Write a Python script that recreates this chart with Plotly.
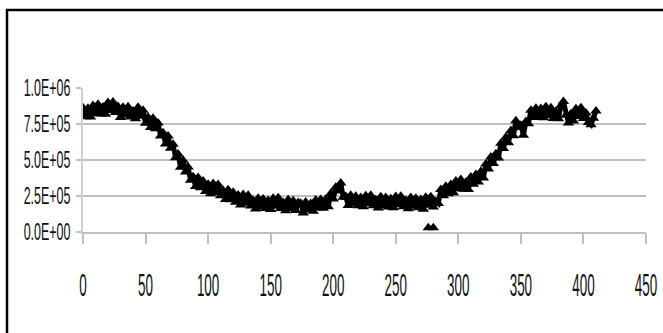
import plotly.graph_objects as go

# x positions (step 2) and values in thousands
x_vals = list(range(0, 412, 2))
y_thousands = [
    862, 800, 860, 798, 878, 822, 887, 820, 868, 818, 900, 844, 902, 830, 872, 795,
    866, 810, 870, 798, 840, 786, 866, 804, 845, 755, 797, 725, 790, 717, 757, 667,
    690, 611, 666, 582, 610, 515, 542, 450, 498, 417, 452, 360, 384, 316, 379, 308,
    355, 281, 332, 265, 336, 274, 329, 252, 289, 225, 294, 224, 276, 207, 257, 188,
    260, 199, 255, 180, 219, 160, 235, 174, 229, 163, 219, 156, 234, 178, 237, 164,
    205, 147, 224, 163, 217, 150, 204, 200, 132, 208, 152, 198, 144, 223, 166, 226,
    165, 228, 175, 268, 230, 310, 285, 340, 242, 247, 184, 256, 194, 249, 183, 239,
    176, 252, 196, 255, 182, 224, 167, 245, 184, 240, 174, 231, 168, 246, 189, 249,
    176, 218, 162, 239, 179, 234, 169, 226, 158, 241, 185, 245, 174, 212, 198, 296,
    251, 318, 265, 330, 272, 354, 301, 364, 297, 345, 296, 382, 332, 400, 348, 420,
    375, 472, 437, 520, 475, 544, 514, 616, 579, 658, 620, 704, 668, 773, 730, 742,
    672, 767, 751, 846, 796, 860, 801, 858, 793, 869, 808, 862, 788, 837, 787, 879,
    906, 810, 757, 822, 770, 856, 802, 862, 788, 827, 761, 745, 790, 840,
]
# two isolated low readings near x = 278
outlier_x = [276, 280]
outlier_y_thousands = [30, 30]

y_tick_values = [0, 250000, 500000, 750000, 1000000]
y_tick_labels = ["0.0E+00", "2.5E+05", "5.0E+05", "7.5E+05", "1.0E+06"]
x_tick_values = [0, 50, 100, 150, 200, 250, 300, 350, 400, 450]

main_y = [v * 1000 for v in y_thousands]
out_y = [v * 1000 for v in outlier_y_thousands]

FONT = "Liberation Sans, Arial, sans-serif"
TXT = "#111111"

fig = go.Figure()
fig.add_trace(go.Scatter(
    x=x_vals, y=main_y, mode="lines+markers",
    line=dict(color="#000000", width=5),
    marker=dict(symbol="triangle-up", size=10, color="#000000", line=dict(width=0)),
    showlegend=False, hoverinfo="skip",
))
fig.add_trace(go.Scatter(
    x=outlier_x, y=out_y, mode="markers",
    marker=dict(symbol="triangle-up", size=10, color="#000000", line=dict(width=0)),
    showlegend=False, hoverinfo="skip",
))

W, H = 663, 333
L, R, T, B = 83, 17, 88, 101
pw, ph = W - L - R, H - T - B

def px2paper_x(px):
    return (px - L) / pw

def py2paper_y(py):
    return (H - B - py) / ph

fig.update_layout(
    width=W, height=H,
    margin=dict(l=L, r=R, t=T, b=B, pad=0, autoexpand=False),
    paper_bgcolor="white", plot_bgcolor="white",
    font=dict(family=FONT, size=18, color=TXT),
    xaxis=dict(
        range=[0, 450], tickvals=x_tick_values,
        showgrid=False, zeroline=False, automargin=False,
        showline=True, linecolor="#bfbfbf", linewidth=2,
        ticks="outside", ticklen=10, tickwidth=1.5, tickcolor="#bfbfbf",
        ticklabelstandoff=14, ticklabeloverflow="allow",
        tickfont=dict(family=FONT, size=32, color=TXT),
    ),
    yaxis=dict(
        range=[0, 1000000], tickvals=y_tick_values, ticktext=y_tick_labels,
        showgrid=True, gridcolor="#bfbfbf", gridwidth=2,
        zeroline=False, automargin=False,
        showline=True, linecolor="#d0d0d0", linewidth=1.5,
        ticks="outside", ticklen=5, tickwidth=2, tickcolor="#bfbfbf",
        ticklabelstandoff=2, ticklabeloverflow="allow",
        tickfont=dict(family=FONT, size=24, color=TXT),
    ),
    shapes=[
        dict(type="line", xref="paper", yref="paper",
             x0=px2paper_x(7), x1=px2paper_x(7), y0=py2paper_y(9), y1=py2paper_y(340),
             line=dict(color="black", width=2.5)),
        dict(type="line", xref="paper", yref="paper",
             x0=px2paper_x(6), x1=px2paper_x(670), y0=py2paper_y(10), y1=py2paper_y(10),
             line=dict(color="black", width=2.5)),
    ],
)

# The reference uses a very condensed face; squeeze tick labels horizontally (text stays text).
post = """
(function(){
  function sq(sel, sx, dx){
    document.querySelectorAll(sel).forEach(function(t){
      if (t.getAttribute('data-sq')) return;
      var tr = t.getAttribute('transform') || '';
      var x = parseFloat(t.getAttribute('x') || '0');
      t.setAttribute('x', (x + dx) / sx);
      t.setAttribute('transform', tr + ' scale(' + sx + ',1)');
      t.setAttribute('data-sq', '1');
    });
  }
  sq('g.xtick text', 0.42, 0);
  sq('g.ytick text', 0.52, 1);
})();
"""

fig.write_html("out.html", post_script=post)
